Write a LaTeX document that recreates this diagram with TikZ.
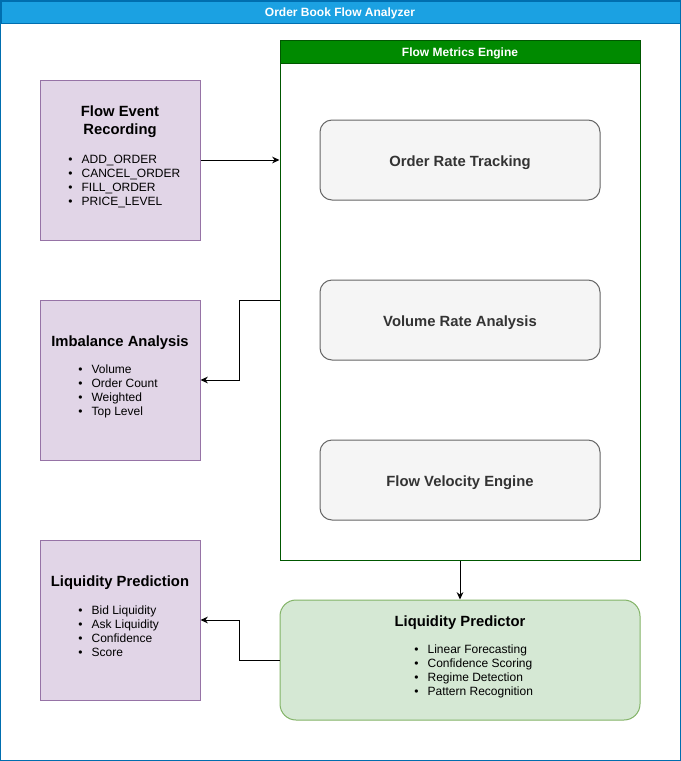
\documentclass[tikz,border=0pt]{standalone}
\usepackage{fontspec}
\setmainfont{Liberation Sans}
\usetikzlibrary{positioning,arrows.meta}

\definecolor{hdrblue}{HTML}{1BA1E2}
\definecolor{hdrblueline}{HTML}{006EAF}
\definecolor{enggreen}{HTML}{008A00}
\definecolor{enggreenline}{HTML}{005700}
\definecolor{fillpurple}{HTML}{E1D5E7}
\definecolor{linepurple}{HTML}{9673A6}
\definecolor{fillgrey}{HTML}{F5F5F5}
\definecolor{linegrey}{HTML}{666666}
\definecolor{textgrey}{HTML}{333333}
\definecolor{fillgreen}{HTML}{D5E8D4}
\definecolor{linegreen}{HTML}{82B366}

\newcommand{\litem}[1]{\makebox[10pt][l]{\textbullet}#1}

\tikzset{
	panel/.style={draw=linepurple, fill=fillpurple, line width=0.75pt, minimum width=120pt, minimum height=120pt, inner sep=0},
	metric/.style={draw=linegrey, fill=fillgrey, line width=0.75pt, rounded corners=9pt, minimum width=210pt, minimum height=60pt, text=textgrey, font=\fontsize{11.1}{13}\selectfont\bfseries},
	metriclabel/.style={text=textgrey, inner sep=0, font=\fontsize{11.1}{13}\selectfont\bfseries},
	paneltitle/.style={align=center, inner sep=0, font=\fontsize{11.1}{13.5}\selectfont\bfseries},
	itemlist/.style={anchor=west, align=left, inner sep=0, font=\fontsize{9}{10.6}\selectfont},
	flow/.style={line width=0.75pt, -{Stealth[length=5.5pt,width=5pt]}}
}

\begin{document}
\begin{tikzpicture}[x=0.75pt,y=-0.75pt]
	\useasboundingbox (0,0) rectangle (681,761);
	
	% OUTER FRAME
	\draw [draw=hdrblueline, line width=0.75pt] (0.5,0.5) rectangle (680,760);
	\node [draw=hdrblueline, fill=hdrblue, line width=0.75pt, minimum width=509.6pt, minimum height=16.5pt, inner sep=0, anchor=north west] at (0.5,0.5) (top) {};
	\node [text=white, font=\fontsize{9}{11}\selectfont\bfseries] at (340,13) (toptitle) {Order Book Flow Analyzer};
	
	% ENGINE CONTAINER
	\node [draw=enggreenline, fill=white, line width=0.75pt, minimum width=270pt, minimum height=390pt, inner sep=0] at (460,300) (eng) {};
	\node [draw=enggreenline, fill=enggreen, line width=0.75pt, minimum width=270pt, minimum height=17.25pt, inner sep=0, anchor=north] at (eng.north) (enghead) {};
	\node [text=white, font=\fontsize{9}{10}\selectfont\bfseries] at (460,53) (engtitle) {Flow Metrics Engine};
	
	\node [metric] at (460,160) (rate) {};
	\node [metriclabel] at (460,162.5) {Order Rate Tracking};
	\node [metric] at (460,320) (vol) {};
	\node [metriclabel] at (460,322.5) {Volume Rate Analysis};
	\node [metric] at (460,480) (vel) {};
	\node [metriclabel] at (460,482.5) {Flow Velocity Engine};
	
	% PREDICTOR
	\node [draw=linegreen, fill=fillgreen, line width=0.75pt, rounded corners=12pt, minimum width=270pt, minimum height=90pt, inner sep=0] at (460,660) (pred) {};
	\node [paneltitle] at (460,623) (predtitle) {Liquidity Predictor};
	\node [itemlist] at (414,671.5) (predlist) {\litem{Linear Forecasting}\\\litem{Confidence Scoring}\\\litem{Regime Detection}\\\litem{Pattern Recognition}};
	
	% LEFT PANELS
	\node [panel] at (120,160) (rec) {};
	\node [paneltitle] at (120,122) (rectitle) {Flow Event\\Recording};
	\node [itemlist] at (68,181.5) (reclist) {\litem{ADD\_ORDER}\\\litem{CANCEL\_ORDER}\\\litem{FILL\_ORDER}\\\litem{PRICE\_LEVEL}};
	
	\node [panel] at (120,380) (imb) {};
	\node [paneltitle] at (120,343) (imbtitle) {Imbalance Analysis};
	\node [itemlist] at (78,391.5) (imblist) {\litem{Volume}\\\litem{Order Count}\\\litem{Weighted}\\\litem{Top Level}};
	
	\node [panel] at (120,620) (liq) {};
	\node [paneltitle] at (120,583) (liqtitle) {Liquidity Prediction};
	\node [itemlist] at (78,631.5) (liqlist) {\litem{Bid Liquidity}\\\litem{Ask Liquidity}\\\litem{Confidence}\\\litem{Score}};
	
	% Connectors
	\draw [flow] (rec.east) -- (rec.east -| eng.west);
	\draw [flow] (eng.west) -- ++(-40,0) |- (imb.east);
	\draw [flow] (eng.south) -- (pred.north);
	\draw [flow] (pred.west) -- ++(-40,0) |- (liq.east);
\end{tikzpicture}
\end{document}
